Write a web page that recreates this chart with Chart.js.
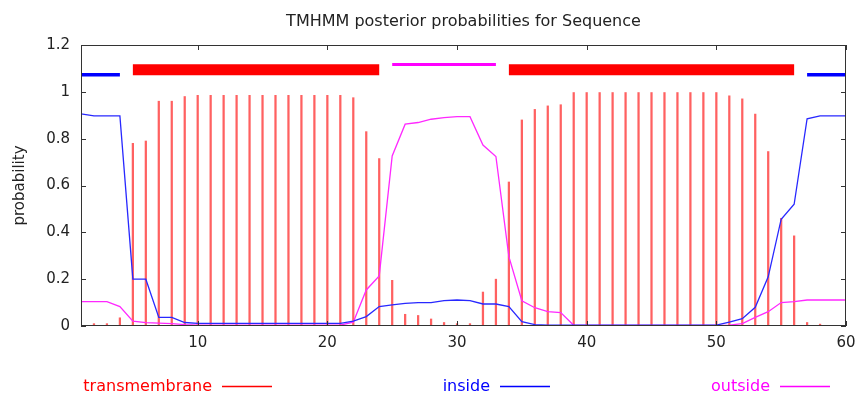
<!DOCTYPE html>
<html>
<head>
<meta charset="utf-8">
<title>TMHMM posterior probabilities</title>
<script src="https://cdn.jsdelivr.net/npm/chart.js@4.4.1/dist/chart.umd.min.js"></script>
<style>
	html, body { margin: 0; padding: 0; background: #fff; }
	#wrap { width: 856px; height: 396px; }
</style>
</head>
<body>
<div id="wrap"><canvas id="stat" width="856" height="396"></canvas></div>
<script>
// residue positions along the sequence
const residue = [
	1, 2, 3, 4, 5, 6, 7, 8, 9, 10,
	11, 12, 13, 14, 15, 16, 17, 18, 19, 20,
	21, 22, 23, 24, 25, 26, 27, 28, 29, 30,
	31, 32, 33, 34, 35, 36, 37, 38, 39, 40,
	41, 42, 43, 44, 45, 46, 47, 48, 49, 50,
	51, 52, 53, 54, 55, 56, 57, 58, 59, 60
];

// posterior probabilities per residue
const transmembrane = [
	0, 0.01, 0.01, 0.035, 0.78, 0.79, 0.96, 0.96, 0.98, 0.985,
	0.985, 0.985, 0.985, 0.985, 0.985, 0.985, 0.985, 0.985, 0.985, 0.985,
	0.985, 0.975, 0.83, 0.715, 0.195, 0.05, 0.045, 0.03, 0.015, 0.01,
	0.01, 0.145, 0.2, 0.615, 0.88, 0.925, 0.94, 0.945, 0.997, 0.997,
	0.997, 0.997, 0.997, 0.997, 0.997, 0.997, 0.997, 0.997, 0.997, 0.997,
	0.983, 0.97, 0.905, 0.745, 0.46, 0.385, 0.015, 0.008, 0, 0
];
const inside = [
	0.906, 0.897, 0.897, 0.897, 0.2, 0.2, 0.037, 0.037, 0.015, 0.011,
	0.011, 0.011, 0.011, 0.011, 0.011, 0.011, 0.011, 0.011, 0.011, 0.011,
	0.011, 0.021, 0.04, 0.083, 0.09, 0.097, 0.1, 0.1, 0.108, 0.111,
	0.108, 0.094, 0.094, 0.083, 0.019, 0.006, 0.004, 0.004, 0.004, 0.004,
	0.004, 0.004, 0.004, 0.004, 0.004, 0.004, 0.004, 0.004, 0.004, 0.004,
	0.017, 0.031, 0.08, 0.21, 0.456, 0.52, 0.885, 0.897, 0.897, 0.897
];
const outside = [
	0.104, 0.104, 0.104, 0.083, 0.021, 0.014, 0.012, 0.01, 0.006, 0.004,
	0.004, 0.004, 0.004, 0.004, 0.004, 0.004, 0.004, 0.004, 0.004, 0.004,
	0.004, 0.016, 0.154, 0.214, 0.726, 0.862, 0.869, 0.883, 0.89, 0.894,
	0.894, 0.773, 0.724, 0.296, 0.108, 0.078, 0.061, 0.057, 0.003, 0.003,
	0.003, 0.003, 0.003, 0.003, 0.003, 0.003, 0.003, 0.003, 0.003, 0.003,
	0.004, 0.01, 0.037, 0.061, 0.1, 0.104, 0.111, 0.111, 0.111, 0.111
];

// predicted topology, [from, to] residue ranges
const insideSpans = [[1, 4], [57, 60]];
const tmSpans = [[5, 24], [34, 56]];
const outsideSpans = [[25, 33]];

const xTicks = [10, 20, 30, 40, 50, 60];
const yTicks = [0, 0.2, 0.4, 0.6, 0.8, 1, 1.2];

Chart.defaults.font.family = '"DejaVu Sans", sans-serif';
Chart.defaults.color = '#222';

function points(values){
	return residue.map((r, i) => ({x: r, y: values[i]}))
}

// all ranges of one kind go into one line, split by null points
function spans(ranges, level){
	let out = [];
	ranges.forEach(function(r, i){
		if (i > 0) out.push({x: r[0], y: null});
		out.push({x: r[0], y: level});
		out.push({x: r[1], y: level});
	});
	return out;
}

// box round the plot, with tick marks pointing inwards on all four sides
const frame = {
	id: 'frame',
	afterDatasetsDraw(chart){
		const {ctx, chartArea: a, scales} = chart;
		ctx.save();
		ctx.strokeStyle = '#333';
		ctx.lineWidth = 1;
		ctx.strokeRect(a.left + 0.5, a.top + 0.5, a.right - a.left - 1, a.bottom - a.top - 1);
		ctx.beginPath();
		scales.x.ticks.forEach(function(t){
			let px = Math.round(scales.x.getPixelForValue(t.value)) + 0.5;
			ctx.moveTo(px, a.bottom); ctx.lineTo(px, a.bottom - 5);
			ctx.moveTo(px, a.top); ctx.lineTo(px, a.top + 5);
		});
		scales.y.ticks.forEach(function(t){
			let py = Math.round(scales.y.getPixelForValue(t.value)) + 0.5;
			ctx.moveTo(a.left, py); ctx.lineTo(a.left + 5, py);
			ctx.moveTo(a.right, py); ctx.lineTo(a.right - 5, py);
		});
		ctx.stroke();
		ctx.restore();
	}
};

// title over the plot and the gnuplot-style key under it
const captions = {
	id: 'captions',
	afterDraw(chart){
		const {ctx, chartArea: a} = chart;
		ctx.save();
		ctx.fillStyle = '#222';
		ctx.font = '16px "DejaVu Sans"';
		ctx.textAlign = 'center';
		ctx.textBaseline = 'alphabetic';
		ctx.fillText('TMHMM posterior probabilities for Sequence', (a.left + a.right) / 2, 26);

		const keyX = [212, 490, 770];
		ctx.font = '16px "DejaVu Sans"';
		ctx.textAlign = 'right';
		ctx.lineWidth = 1.3;
		chart.data.datasets.slice(0, 3).forEach(function(ds, i){
			ctx.fillStyle = ds.keyColor;
			ctx.strokeStyle = ds.keyColor;
			ctx.fillText(ds.label, keyX[i], 391);
			ctx.beginPath();
			ctx.moveTo(keyX[i] + 10, 386.5);
			ctx.lineTo(keyX[i] + 60, 386.5);
			ctx.stroke();
		});
		ctx.restore();
	}
};

new Chart(
	document.getElementById('stat'),
	{
		type: 'line',
		data: {
			datasets: [
				{
					type: 'bar',
					label: 'transmembrane',
					keyColor: '#ff0000',
					data: points(transmembrane),
					backgroundColor: 'rgba(255, 0, 0, 0.62)',
					barThickness: 1.6,
					order: 5
				},
				{
					label: 'inside',
					keyColor: '#0000ff',
					data: points(inside),
					borderColor: 'rgb(40, 40, 255)',
					borderWidth: 1.3,
					pointRadius: 0,
					tension: 0,
					order: 2
				},
				{
					label: 'outside',
					keyColor: '#ff00ff',
					data: points(outside),
					borderColor: 'rgb(255, 40, 255)',
					borderWidth: 1.3,
					pointRadius: 0,
					tension: 0,
					order: 3
				},
				{
					label: 'tm segments',
					data: spans(tmSpans, 1.094),
					borderColor: '#ff0000',
					borderWidth: 11,
					borderCapStyle: 'butt',
					pointRadius: 0,
					spanGaps: false,
					order: 1
				},
				{
					label: 'inside segments',
					data: spans(insideSpans, 1.073),
					borderColor: '#0000ff',
					borderWidth: 3.5,
					borderCapStyle: 'butt',
					pointRadius: 0,
					spanGaps: false,
					order: 1
				},
				{
					label: 'outside segments',
					data: spans(outsideSpans, 1.117),
					borderColor: '#ff00ff',
					borderWidth: 3,
					borderCapStyle: 'butt',
					pointRadius: 0,
					spanGaps: false,
					order: 1
				}
			]
		},
		options: {
			responsive: false,
			animation: false,
			events: [],
			layout: {
				padding: {top: 45, right: 10, bottom: 40, left: 0}
			},
			plugins: {
				legend: {display: false},
				title: {display: false},
				tooltip: {enabled: false}
			},
			scales: {
				x: {
					type: 'linear',
					min: 1,
					max: 60,
					offset: false,
					grid: {display: false, drawTicks: false},
					border: {display: false},
					afterBuildTicks: function(scale){
						scale.ticks = xTicks.map(v => ({value: v}))
					},
					afterFit: function(scale){
						scale.height = 30;
						scale.paddingLeft = 0;
						scale.paddingRight = 0;
					},
					ticks: {
						padding: 8,
						maxRotation: 0,
						autoSkip: false,
						font: {size: 15},
						callback: v => String(v)
					}
				},
				y: {
					min: 0,
					max: 1.2,
					grid: {display: false, drawTicks: false},
					border: {display: false},
					afterBuildTicks: function(scale){
						scale.ticks = yTicks.map(v => ({value: v}))
					},
					afterFit: function(scale){
						scale.width = 81
					},
					ticks: {
						padding: 11,
						font: {size: 15},
						callback: v => String(v)
					},
					title: {
						display: true,
						text: 'probability',
						font: {size: 15},
						padding: {top: 11, bottom: 0}
					}
				}
			}
		},
		plugins: [frame, captions]
	}
);
</script>
</body>
</html>
